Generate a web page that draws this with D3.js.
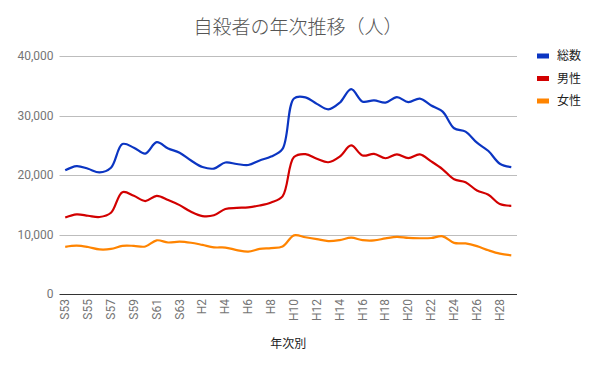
<!DOCTYPE html>
<html>
<head>
<meta charset="utf-8">
<script src="https://cdn.jsdelivr.net/npm/d3@7"></script>
<style>
  body { margin: 0; background: #fff; }
  text { font-family: Roboto, "Noto Sans CJK JP", "Noto Sans", sans-serif; }
</style>
</head>
<body>
<div id="chart"></div>
<script>
// years S53 (1978) .. H29 (2017)
var years = ["S53","S54","S55","S56","S57","S58","S59","S60","S61","S62","S63",
  "H1","H2","H3","H4","H5","H6","H7","H8","H9","H10","H11","H12","H13","H14",
  "H15","H16","H17","H18","H19","H20","H21","H22","H23","H24","H25","H26","H27","H28","H29"];
var totalValues = [20788,21503,21048,20434,21228,25202,24596,23599,25524,24460,23742,
  22436,21346,21084,22104,21851,21679,22445,23104,24391,32863,33048,31957,31042,32143,
  34427,32325,32552,32155,33093,32249,32845,31690,30651,27858,27283,25427,24025,21897,21321];
var maleValues = [12859,13386,13155,12942,13654,17116,16508,15624,16497,15802,14934,
  13818,13102,13242,14296,14468,14560,14874,15393,16416,23013,23512,22727,22144,23080,
  24963,23272,23540,22813,23478,22831,23472,22283,20955,19273,18787,17386,16681,15121,14826];
var femaleValues = [7929,8117,7893,7492,7574,8086,8088,7975,9027,8658,8808,
  8618,8244,7842,7808,7383,7119,7571,7711,7975,9850,9536,9230,8898,9063,
  9464,9053,9012,9342,9615,9418,9373,9407,9696,8585,8496,8041,7344,6776,6495];
var seriesNames = ["総数","男性","女性"];
var seriesColors = ["#0b35c2","#d20000","#ff8400"];
var yTicks = [0,10000,20000,30000,40000];

var width = 600, height = 371;
var margin = {left: 59.5, right: 83, top: 56, bottom: 77};

var svg = d3.select("#chart").append("svg")
    .attr("width", width)
    .attr("height", height);

var xScale = d3.scaleBand()
    .domain(years)
    .range([margin.left, width - margin.right]);

var yScale = d3.scaleLinear()
    .domain([0, 40000])
    .range([height - margin.bottom, margin.top]);

// title
svg.append("text")
    .attr("x", 298)
    .attr("y", 34)
    .attr("text-anchor", "middle")
    .style("font-size", "19px")
    .style("font-weight", 300)
    .style("fill", "#555")
    .text("自殺者の年次推移（人）");

// gridlines
svg.selectAll(".grid")
    .data(yTicks.slice(1))
   .enter()
    .append("line")
    .attr("class", "grid")
    .attr("x1", margin.left)
    .attr("x2", width - margin.right)
    .attr("y1", function(d) { return Math.round(yScale(d)) + 0.5; })
    .attr("y2", function(d) { return Math.round(yScale(d)) + 0.5; })
    .style("stroke", "#bdbdbd")
    .style("stroke-width", 1);

// y labels
svg.selectAll(".ylabel")
    .data(yTicks)
   .enter()
    .append("text")
    .attr("class", "ylabel")
    .attr("x", margin.left - 6)
    .attr("y", function(d) { return yScale(d); })
    .attr("dy", "0.35em")
    .attr("text-anchor", "end")
    .style("font-size", "12px")
    .style("fill", "#757575")
    .text(d3.format(","));

var series = [totalValues, maleValues, femaleValues];

var line = d3.line()
    .x(function(d, i) { return xScale(years[i]) + xScale.bandwidth() / 2; })
    .y(function(d) { return yScale(d); })
    .curve(d3.curveCatmullRom.alpha(0.5));

svg.selectAll(".series")
    .data(series)
   .enter()
    .append("path")
    .attr("class", "series")
    .attr("d", line)
    .style("fill", "none")
    .style("stroke", function(d, i) { return seriesColors[i]; })
    .style("stroke-width", 2.2)
    .style("stroke-linejoin", "round");

// baseline
svg.append("line")
    .attr("x1", margin.left)
    .attr("x2", width - margin.right)
    .attr("y1", Math.round(yScale(0)) + 0.5)
    .attr("y2", Math.round(yScale(0)) + 0.5)
    .style("stroke", "#333")
    .style("stroke-width", 1);

// x labels (every other year), rotated
svg.selectAll(".xlabel")
    .data(years.filter(function(d, i) { return i % 2 === 0; }))
   .enter()
    .append("text")
    .attr("class", "xlabel")
    .attr("transform", function(d) {
      return "translate(" + (xScale(d) + xScale.bandwidth() / 2 + 4) + "," + (yScale(0) + 5) + ") rotate(-90)";
    })
    .attr("text-anchor", "end")
    .style("font-size", "12px")
    .style("fill", "#757575")
    .text(function(d) { return d; });

// x title
svg.append("text")
    .attr("x", (margin.left + width - margin.right) / 2)
    .attr("y", 348)
    .attr("text-anchor", "middle")
    .style("font-size", "12px")
    .style("fill", "#222")
    .text("年次別");

// legend
var legend = svg.selectAll(".legend")
    .data(seriesNames)
   .enter()
    .append("g")
    .attr("class", "legend")
    .attr("transform", function(d, i) { return "translate(537," + (56 + i * 22.5) + ")"; });

legend.append("rect")
    .attr("x", 0)
    .attr("y", -2.5)
    .attr("width", 12)
    .attr("height", 5)
    .style("fill", function(d, i) { return seriesColors[i]; });

legend.append("text")
    .attr("x", 20)
    .attr("dy", "0.35em")
    .style("font-size", "12px")
    .style("fill", "#222")
    .text(function(d) { return d; });
</script>
</body>
</html>
